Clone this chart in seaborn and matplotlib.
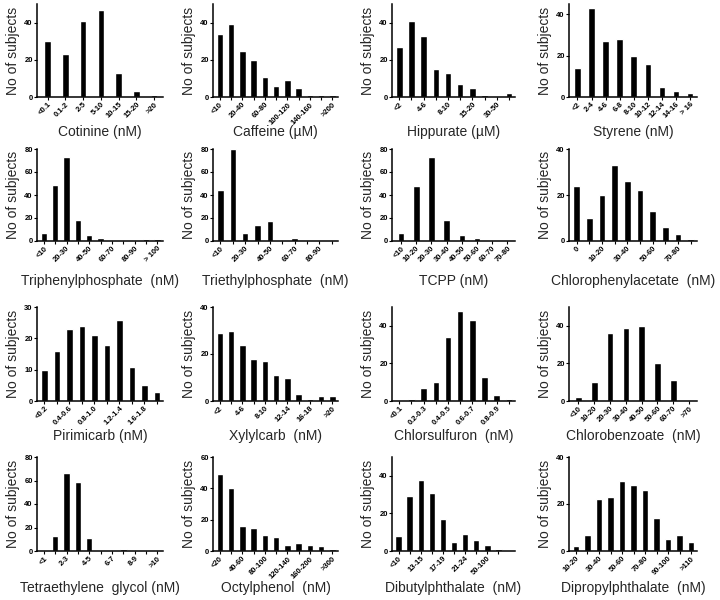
import matplotlib
matplotlib.use("Agg")
import matplotlib.pyplot as plt
import seaborn as sns
import pandas as pd

# --- data (counts of subjects per concentration bin) ---
cotinine_bins = ["<0.1", "0.1-2", "2-5", "5-10", "10-15", "15-20", ">20"]
cotinine_n = [30, 23, 41, 47, 13, 3, 1]

caffeine_bins = ["<10", "10-20", "20-40", "40-60", "60-80", "80-100", "100-120",
                 "120-140", "140-160", "160-200", ">200"]
caffeine_n = [34, 39, 25, 20, 11, 6, 9, 5, 1, 1, 1]

hippurate_bins = ["<2", "2-4", "4-6", "6-8", "8-10", "10-15", "15-20", "20-30", "30-50", ">50"]
hippurate_n = [27, 41, 33, 15, 13, 7, 5, 1, 0, 2]

styrene_bins = ["<2", "2-4", "4-6", "6-8", "8-10", "10-12", "12-14", "14-16", "> 16"]
styrene_n = [14, 43, 27, 28, 20, 16, 5, 3, 2]

tphp_bins = ["<10", "10-20", "20-30", "30-40", "40-50", "50-60", "60-70", "70-80",
             "80-90", "90-100", "> 100"]
tphp_n = [7, 49, 73, 18, 5, 3, 0, 0, 0, 2, 2]

tehp_bins = ["<10", "10-20", "20-30", "30-40", "40-50", "50-60", "60-70", "70-80",
             "80-90", ">90"]
tehp_n = [44, 80, 7, 14, 17, 0, 3, 1, 0, 1]

tcpp_bins = ["<10", "10-20", "20-30", "30-40", "40-50", "50-60", "60-70", "70-80"]
tcpp_n = [7, 48, 73, 18, 5, 3, 0, 0]

cpa_bins = ["0", "0-10", "10-20", "20-30", "30-40", "40-50", "50-60", "60-70", "70-80", ">80"]
cpa_n = [24, 10, 20, 33, 26, 22, 13, 6, 3, 1]

pirimicarb_bins = ["<0.2", "0.2-0.4", "0.4-0.6", "0.6-0.8", "0.8-1.0", "1.0-1.2",
                   "1.2-1.4", "1.4-1.6", "1.6-1.8", ">1.8"]
pirimicarb_n = [10, 16, 23, 24, 21, 18, 26, 11, 5, 3]

xylylcarb_bins = ["<2", "2-4", "4-6", "6-8", "8-10", "10-12", "12-14", "14-16",
                  "16-18", "18-20", ">20"]
xylylcarb_n = [29, 30, 24, 18, 17, 11, 10, 3, 1, 2, 2]

chlorsulfuron_bins = ["<0.1", "0.1-0.2", "0.2-0.3", "0.3-0.4", "0.4-0.5", "0.5-0.6",
                      "0.6-0.7", "0.7-0.8", "0.8-0.9", ">0.9"]
chlorsulfuron_n = [0, 1, 7, 10, 34, 48, 43, 13, 3, 1]

chlorobenzoate_bins = ["<10", "10-20", "20-30", "30-40", "40-50", "50-60", "60-70", ">70"]
chlorobenzoate_n = [2, 10, 36, 39, 40, 20, 11, 0]

teg_bins = ["<1", "1-2", "2-3", "3-4", "4-5", "5-6", "6-7", "7-8", "8-9", "9-10", ">10"]
teg_n = [1, 13, 66, 59, 11, 1, 0, 2, 0, 1, 1]

octylphenol_bins = ["<20", "20-40", "40-60", "60-80", "80-100", "100-120", "120-140",
                    "140-160", "160-200", "200-300", ">300"]
octylphenol_n = [49, 40, 16, 15, 10, 9, 4, 5, 4, 3, 1]

dbp_bins = ["<10", "10-13", "13-15", "15-17", "17-19", "19-21", "21-24", "24-50",
            "50-100", ">100"]
dbp_n = [8, 29, 38, 31, 17, 5, 9, 6, 3, 1]

dprp_bins = ["10-20", "20-30", "30-40", "40-50", "50-60", "60-70", "70-80", "80-90",
             "90-100", "100-110", ">110"]
dprp_n = [2, 7, 22, 23, 30, 28, 26, 14, 5, 7, 4]

# (x label, bins, counts, y max, y tick step, show every n-th bin label, empty slots at right)
panels = [
    ("Cotinine (nM)", cotinine_bins, cotinine_n, 50, 20, 1, 0),
    ("Caffeine (µM)", caffeine_bins, caffeine_n, 50, 20, 2, 0),
    ("Hippurate (µM)", hippurate_bins, hippurate_n, 50, 20, 2, 0),
    ("Styrene (nM)", styrene_bins, styrene_n, 45, 20, 1, 0),
    ("Triphenylphosphate  (nM)", tphp_bins, tphp_n, 80, 20, 2, 0),
    ("Triethylphosphate  (nM)", tehp_bins, tehp_n, 80, 20, 2, 0),
    ("TCPP (nM)", tcpp_bins, tcpp_n, 80, 20, 1, 0),
    ("Chlorophenylacetate  (nM)", cpa_bins, cpa_n, 40, 20, 2, 0),
    ("Pirimicarb (nM)", pirimicarb_bins, pirimicarb_n, 30, 10, 2, 0),
    ("Xylylcarb  (nM)", xylylcarb_bins, xylylcarb_n, 40, 20, 2, 0),
    ("Chlorsulfuron  (nM)", chlorsulfuron_bins, chlorsulfuron_n, 50, 20, 2, 0),
    ("Chlorobenzoate  (nM)", chlorobenzoate_bins, chlorobenzoate_n, 50, 20, 1, 0),
    ("Tetraethylene  glycol (nM)", teg_bins, teg_n, 80, 20, 2, 0),
    ("Octylphenol  (nM)", octylphenol_bins, octylphenol_n, 60, 20, 2, 0),
    ("Dibutylphthalate  (nM)", dbp_bins, dbp_n, 50, 20, 2, 1),
    ("Dipropylphthalate  (nM)", dprp_bins, dprp_n, 40, 20, 2, 0),
]

sns.set_style("ticks")
plt.rcParams['font.family'] = ['Liberation Sans', 'DejaVu Sans']

W, H = 720, 600
fig = plt.figure(figsize=(7.2, 6), dpi=100)

# axes frame in pixels: column left/right, row top/bottom, x label centre per row
col_lr = [(37, 163), (213, 338), (392, 515), (569, 697)]
row_tb = [(4, 97), (149, 241), (307, 401), (457, 551)]
xlab_y = [132, 281, 436, 588]
bar_px = 6.5  # bars are about the same pixel width in every panel

for i, (xlabel, bins, counts, ymax, ystep, every, pad) in enumerate(panels):
    (l, r), (t, b) = col_lr[i % 4], row_tb[i // 4]
    ax = fig.add_axes([l / W, 1 - b / H, (r - l) / W, (b - t) / H])

    x0, x1 = -0.6, len(bins) - 0.5 + pad
    df = pd.DataFrame({"bin": bins, "n": counts})
    sns.barplot(data=df, x="bin", y="n", order=bins, color="black", saturation=1,
                width=bar_px * (x1 - x0) / (r - l), ax=ax)

    ax.set_xlim(x0, x1)
    ax.set_ylim(0, ymax)
    ax.set_yticks(range(0, ymax + 1, ystep))
    ax.set_xticks(range(len(bins)))
    ax.set_xticklabels([b_ if j % every == 0 else "" for j, b_ in enumerate(bins)],
                       rotation=45, ha="right", rotation_mode="anchor")
    for lab in ax.get_xticklabels() + ax.get_yticklabels():
        lab.set_fontsize(5.5)
        lab.set_fontweight("bold")

    ax.set_xlabel(xlabel, fontsize=10)
    ax.xaxis.label.set_va("center")
    ax.xaxis.set_label_coords(0.5, (b - xlab_y[i // 4]) / (b - t))
    ax.set_ylabel("No of subjects", fontsize=10, labelpad=3)
    ax.tick_params(length=2, width=0.8, pad=1, colors="black")
    sns.despine(ax=ax)
    for s in ("left", "bottom"):
        ax.spines[s].set_linewidth(1.1)
        ax.spines[s].set_color("black")

fig.savefig("out.png", dpi=100, facecolor="white")
